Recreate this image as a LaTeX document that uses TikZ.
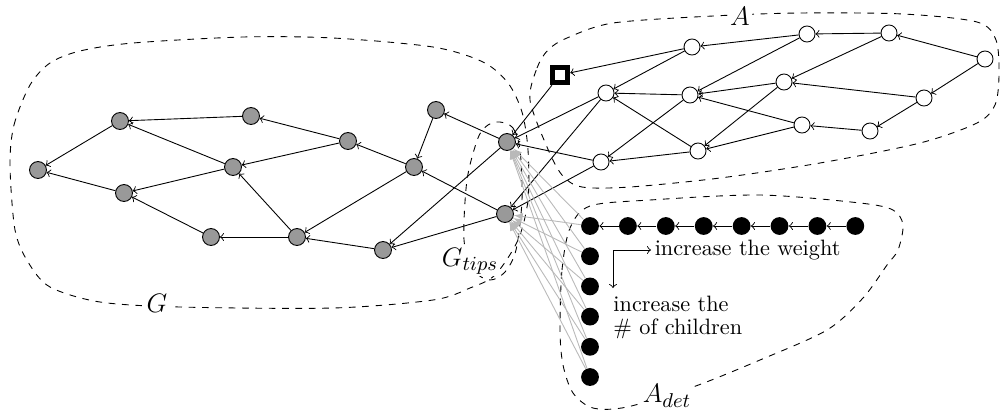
\documentclass[tikz,border=0pt]{standalone}
\usepackage{amsmath}
\usetikzlibrary{positioning}
\usetikzlibrary{arrows}

\begin{document}
\begin{tikzpicture}[x=0.0158cm, y=-0.0158cm,
    gnode/.style={circle, draw, fill=gray!80, inner sep=0pt, minimum size=7.6pt},
    anode/.style={circle, draw, fill=white, inner sep=0pt, minimum size=7.2pt},
    dnode/.style={circle, fill=black, inner sep=0pt, minimum size=8pt},
    rootnode/.style={rectangle, draw, line width=2.4pt, fill=white, inner sep=0pt, minimum size=6.8pt},
    region/.style={dashed},
    regionlabel/.style={fill=white, inner sep=1pt, font=\fontsize{13}{15}\selectfont},
    edge/.style={->},
    detedge/.style={-latex, gray!55}]

    \useasboundingbox (0,0) rectangle (1001,411);

    % the regions
    \draw [region] plot [smooth cycle] coordinates {(10,165) (14,125) (30,85) (50,63) (80,51) (133,43) (243,37) (333,38) (433,47) (483,62) (508,83) (522,112) (528,150) (528,200) (518,240) (495,275) (470,288) (433,300) (333,308) (180,307) (100,302) (50,287) (28,262) (15,230)};
    \draw [region] plot [smooth cycle] coordinates {(530,100) (537,68) (548,50) (567,38) (613,23) (713,16) (800,13) (903,14) (977,22) (996,40) (999,75) (995,105) (977,123) (920,143) (820,163) (720,178) (630,187) (582,187) (562,175) (547,147)};
    \draw [region] plot [smooth cycle] coordinates {(560,330) (562,270) (570,228) (590,206) (650,200) (760,195) (860,203) (893,210) (903,225) (898,250) (887,265) (863,298) (827,330) (760,360) (693,387) (627,407) (593,408) (573,393) (563,365)};
    \draw [region] plot [smooth cycle] coordinates {(500,122) (513,128) (520,150) (522,200) (516,250) (505,272) (490,280) (473,270) (464,240) (467,180) (478,138) (488,125)};

    % nodes of G
    \node [gnode] (g1) at (38,170) {};
    \node [gnode] (g2) at (120,121) {};
    \node [gnode] (g3) at (124,193) {};
    \node [gnode] (g4) at (251,116) {};
    \node [gnode] (g5) at (233,167) {};
    \node [gnode] (g6) at (211,237) {};
    \node [gnode] (g7) at (348,141) {};
    \node [gnode] (g8) at (297,237) {};
    \node [gnode] (g9) at (414,167) {};
    \node [gnode] (g10) at (383,250) {};
    \node [gnode] (g11) at (436,110) {};
    \node [gnode] (tip1) at (507,142) {};
    \node [gnode] (tip2) at (505,214) {};

    % nodes of A
    \node [rootnode] (root) at (560,75) {};
    \node [anode] (a1) at (606,93) {};
    \node [anode] (a2) at (692,47) {};
    \node [anode] (a3) at (690,95) {};
    \node [anode] (a4) at (698,151) {};
    \node [anode] (a5) at (601,162) {};
    \node [anode] (a6) at (807,34) {};
    \node [anode] (a7) at (889,33) {};
    \node [anode] (a8) at (985,59) {};
    \node [anode] (a9) at (784,82) {};
    \node [anode] (a10) at (924,98) {};
    \node [anode] (a11) at (802,125) {};
    \node [anode] (a12) at (870,131) {};

    % nodes of A_det
    \node [dnode, alias=v1] (h1) at (590,226) {};
    \foreach \i in {2,...,8}
        \node [dnode] (h\i) at ({590+37.9*(\i-1)},226) {};
    \foreach \i in {2,...,6}
        \node [dnode] (v\i) at (590,{226+30.2*(\i-1)}) {};

    % edges
    \foreach \from/\to in {g2/g1, g3/g1, g4/g2, g5/g2, g5/g3, g6/g3, g7/g4, g7/g5,
                           g8/g5, g8/g6, g9/g7, g9/g8, g10/g8, g11/g9,
                           tip1/g11, tip1/g10, tip2/g9, tip2/g10}
        \draw [edge] (\from) -- (\to);
    \foreach \from/\to in {a2/root, root/tip1, a2/a1, a3/a1, a4/a1, a1/tip1, a1/tip2,
                           a3/a5, a4/a5, a5/tip1, a5/tip2, a6/a2, a6/a3, a7/a6, a7/a9,
                           a8/a7, a8/a10, a9/a3, a9/a4, a10/a9, a10/a12, a11/a3,
                           a11/a4, a12/a11}
        \draw [edge] (\from) -- (\to);
    \foreach \i/\j in {2/1, 3/2, 4/3, 5/4, 6/5, 7/6, 8/7}
        \draw [edge] (h\i) -- (h\j);
    \foreach \i in {1,...,6} {
        \draw [detedge] (v\i) -- (tip1);
        \draw [detedge] (v\i) -- (tip2);
    }

    % labels
    \node [regionlabel] (labG) at (157,303) {$G$};
    \node [regionlabel] (labA) at (740,16) {$A$};
    \node [regionlabel] (labAdet) at (667,396) {$A_{det}$};
    \node [regionlabel] (labTips) at (470,261) {$G_{tips}$};

    \node [anchor=west, inner sep=1.5pt] (weight) at (651,250) {increase the weight};
    \coordinate (childEnd) at (613,288);
    \draw [<->] (weight.west) -| (childEnd);
    \node [anchor=north west, align=left, inner sep=0pt] (children) at (613,296)
        {increase the\\[-2pt]\# of children};

\end{tikzpicture}
\end{document}
